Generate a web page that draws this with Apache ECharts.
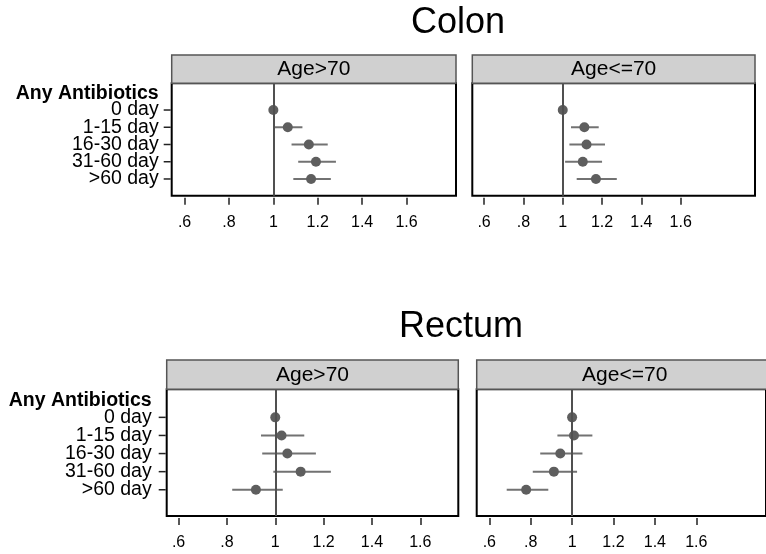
<!DOCTYPE html>
<html>
<head>
<meta charset="utf-8">
<script src="https://cdn.jsdelivr.net/npm/echarts@6/dist/echarts.min.js"></script>
<style>
  html, body { margin: 0; padding: 0; background: #fff; }
  #chart { width: 766px; height: 554px; }
</style>
</head>
<body>
<div id="chart"></div>
<script>
// Exposure categories (row 0 is the group heading)
const groupHeading = 'Any Antibiotics';
const rowLabels = ['0 day', '1-15 day', '16-30 day', '31-60 day', '>60 day'];
const xTicks = [0.6, 0.8, 1, 1.2, 1.4, 1.6];

// Colon, Age>70: point estimate and 95% CI
const colonOldEst = [1.000, 1.065, 1.160, 1.192, 1.170];
const colonOldLo  = [null,  1.004, 1.082, 1.112, 1.090];
const colonOldHi  = [null,  1.131, 1.245, 1.282, 1.259];

// Colon, Age<=70
const colonYoungEst = [1.000, 1.110, 1.121, 1.102, 1.169];
const colonYoungLo  = [null,  1.042, 1.034, 1.012, 1.071];
const colonYoungHi  = [null,  1.183, 1.215, 1.200, 1.275];

// Rectum, Age>70
const rectumOldEst = [1.000, 1.026, 1.050, 1.105, 0.920];
const rectumOldLo  = [null,  0.941, 0.946, 0.992, 0.822];
const rectumOldHi  = [null,  1.120, 1.168, 1.230, 1.031];

// Rectum, Age<=70
const rectumYoungEst = [1.000, 1.009, 0.943, 0.912, 0.778];
const rectumYoungLo  = [null,  0.929, 0.846, 0.810, 0.684];
const rectumYoungHi  = [null,  1.098, 1.050, 1.024, 0.885];

const FONT = '"Liberation Sans", Arial, Helvetica, sans-serif';

// Panel layout: plot rectangle, strip above it, axis ranges
const panels = [
  { label: 'Age>70',  est: colonOldEst,    lo: colonOldLo,    hi: colonOldHi,
    left: 171.7, top: 83.3, width: 284.3, height: 112.4, strip: 28.3,
    xMin: 0.542, xMax: 1.823, yMin: -0.55, yMax: 5.97, showY: true, labelGap: 13 },
  { label: 'Age<=70', est: colonYoungEst,  lo: colonYoungLo,  hi: colonYoungHi,
    left: 472.3, top: 83.3, width: 282.7, height: 112.4, strip: 28.3,
    xMin: 0.540, xMax: 1.978, yMin: -0.55, yMax: 5.97, showY: false },
  { label: 'Age>70',  est: rectumOldEst,   lo: rectumOldLo,   hi: rectumOldHi,
    left: 166.7, top: 389.3, width: 291.6, height: 126.7, strip: 29.3,
    xMin: 0.551, xMax: 1.757, yMin: -0.55, yMax: 6.45, showY: true, labelGap: 15 },
  { label: 'Age<=70', est: rectumYoungEst, lo: rectumYoungLo, hi: rectumYoungHi,
    left: 476.7, top: 389.3, width: 296,   height: 126.7, strip: 29.3,
    xMin: 0.539, xMax: 1.937, yMin: -0.55, yMax: 6.45, showY: false }
];

const titles = [
  { text: 'Colon',  x: 458, y: 23.5 },
  { text: 'Rectum', x: 461, y: 327 }
];

function tickText(v) {
  const s = String(Math.round(v * 10) / 10);
  return s.startsWith('0.') ? s.slice(1) : s;
}

const grid = [], xAxis = [], yAxis = [], series = [], graphic = [];

panels.forEach((p, i) => {
  grid.push({
    left: p.left, top: p.top, width: p.width, height: p.height,
    show: true, borderColor: '#000', borderWidth: 2, backgroundColor: '#fff'
  });
  xAxis.push({
    type: 'value', gridIndex: i, min: p.xMin, max: p.xMax,
    position: 'bottom', offset: 2,
    axisLine: { show: false, onZero: false },
    splitLine: { show: false },
    axisTick: { show: true, customValues: xTicks, length: 7,
                lineStyle: { color: '#222', width: 1.5 } },
    axisLabel: { customValues: xTicks, formatter: tickText, margin: 17,
                 hideOverlap: false, showMinLabel: true, showMaxLabel: true,
                 color: '#000', fontFamily: FONT, fontSize: 16 }
  });
  yAxis.push({
    type: 'value', gridIndex: i, inverse: true, min: p.yMin, max: p.yMax,
    position: 'left',
    axisLine: { show: false, onZero: false },
    splitLine: { show: false },
    axisTick: { show: false },
    axisLabel: { show: false }
  });

  // row labels and ticks on the left edge of the panel (row 0 = bold heading)
  if (p.showY) {
    const rowData = [[p.xMin, 0.05, groupHeading]].concat(
      rowLabels.map((r, k) => [p.xMin, k + 1, r]));
    series.push({
      type: 'custom', xAxisIndex: i, yAxisIndex: i, z: 2, clip: false, silent: true,
      data: rowData,
      encode: { x: 0, y: 1 },
      renderItem: (params, api) => {
        const c = api.coord([api.value(0), api.value(1)]);
        const idx = params.dataIndex;
        const text = rowData[idx][2];
        const children = [{
          type: 'text', x: c[0] - p.labelGap, y: c[1],
          style: { text: text, align: 'right', verticalAlign: 'middle',
                   font: (idx === 0 ? 'bold ' : '') + '19.5px ' + FONT, fill: '#000' }
        }];
        if (idx > 0) {
          children.push({ type: 'line',
            shape: { x1: c[0] - 8, y1: c[1], x2: c[0] - 1, y2: c[1] },
            style: { stroke: '#222', lineWidth: 1.5 } });
        }
        return { type: 'group', children: children };
      }
    });
  }

  // confidence interval whiskers
  const ciData = p.est.map((e, k) => [p.lo[k], p.hi[k], k + 1]).filter(d => d[0] !== null);
  series.push({
    type: 'custom', xAxisIndex: i, yAxisIndex: i, z: 3,
    data: ciData,
    encode: { x: [0, 1], y: 2 },
    renderItem: (params, api) => {
      const a = api.coord([api.value(0), api.value(2)]);
      const b = api.coord([api.value(1), api.value(2)]);
      return { type: 'line', shape: { x1: a[0], y1: a[1], x2: b[0], y2: b[1] },
               style: { stroke: '#727272', lineWidth: 2 } };
    }
  });

  // point estimates, with reference line at 1
  series.push({
    type: 'scatter', xAxisIndex: i, yAxisIndex: i, z: 4,
    symbol: 'circle', symbolSize: 10,
    itemStyle: { color: '#5e5e5e', opacity: 1 },
    data: p.est.map((e, k) => [e, k + 1]),
    markLine: {
      silent: true, symbol: 'none', animation: false,
      label: { show: false },
      lineStyle: { color: '#505050', width: 2, type: 'solid' },
      data: [{ xAxis: 1 }]
    }
  });

  // strip heading above each panel
  graphic.push({
    type: 'rect', z: 10,
    shape: { x: p.left, y: p.top - p.strip, width: p.width, height: p.strip },
    style: { fill: '#d0d0d0', stroke: '#555', lineWidth: 1.5 }
  });
  graphic.push({
    type: 'text', z: 11,
    x: p.left + p.width / 2, y: p.top - p.strip / 2 + 0.5,
    style: { text: p.label, align: 'center', verticalAlign: 'middle',
             font: '21px ' + FONT, fill: '#000' }
  });
});

titles.forEach(t => {
  graphic.push({
    type: 'text', x: t.x, y: t.y, z: 10,
    style: { text: t.text, align: 'center', verticalAlign: 'middle',
             font: '36px ' + FONT, fill: '#000' }
  });
});

const chart = echarts.init(document.getElementById('chart'), null, { renderer: 'canvas' });
chart.setOption({
  animation: false,
  backgroundColor: '#fff',
  grid, xAxis, yAxis, series, graphic
});
</script>
</body>
</html>
